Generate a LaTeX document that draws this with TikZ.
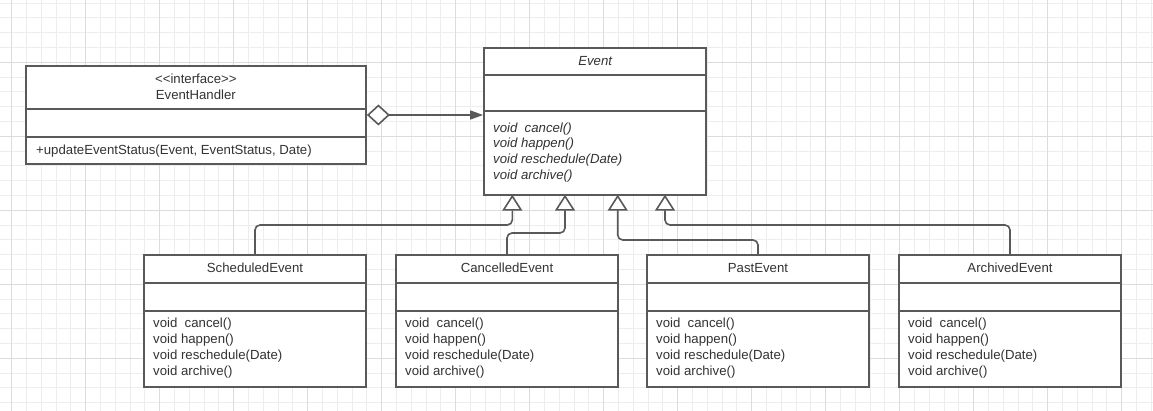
\documentclass[tikz,border=0pt]{standalone}
\usepackage{fontspec}
\newfontfamily\lsans{Liberation Sans}
\usetikzlibrary{arrows.meta}
\definecolor{edgec}{HTML}{595959}
\definecolor{txtc}{HTML}{333333}
\definecolor{gminor}{HTML}{EDEDED}
\definecolor{gmajor}{HTML}{DCDCDC}
\tikzset{
  gridminor/.style={draw=gminor, line width=1pt},
  gridmajor/.style={draw=gmajor, line width=1.2pt},
  classbox/.style={draw=edgec, line width=1.8pt, fill=white, rectangle, inner sep=0pt},
  divider/.style={draw=edgec, line width=1.8pt},
  lbl/.style={font=\lsans\fontsize{13.2}{15.8}\selectfont, text=txtc, inner sep=0pt},
  ilbl/.style={lbl, font=\lsans\itshape\fontsize{13.2}{15.8}\selectfont},
  inh/.style={draw=edgec, line width=1.6pt, rounded corners=5pt,
    -{Triangle[fill=white, length=16pt, width=20pt]}},
  agg/.style={draw=edgec, line width=1.6pt,
    {Diamond[fill=white, length=23pt, width=21pt]}-{Triangle[length=13pt, width=9pt]}},
}
\begin{document}
\begin{tikzpicture}[x=1pt,y=-1pt]
\useasboundingbox (0,0) rectangle (1153,411);
\fill[white] (0,0) rectangle (1153,411);
% grid
\begin{scope}
\clip (0,0) rectangle (1153,411);
\foreach \j in {-1,...,77} \draw[gridminor] ({11.7+14.8*\j},0) -- ({11.7+14.8*\j},411);
\foreach \j in {0,...,28} \draw[gridminor] (0,{-11.7+14.8*\j}) -- (1153,{-11.7+14.8*\j});
\foreach \j in {0,...,15} \draw[gridmajor] ({11.7+74*\j},0) -- ({11.7+74*\j},411);
\foreach \j in {1,...,5} \draw[gridmajor] (0,{-11.7+74*\j}) -- (1153,{-11.7+74*\j});
\end{scope}

% EventHandler
\node[classbox, minimum width=340.3pt, minimum height=98.6pt] (handler) at (195.85,115) {};
\draw[divider] (25.7,109) -- (366,109);
\draw[divider] (25.7,137) -- (366,137);
\node[lbl] (handler-st) at (195.85,78.3) {<\kern0pt<interface>\kern0pt>};
\node[lbl] (handler-title) at (195.85,94.3) {EventHandler};
\node[lbl, anchor=base west] (handler-m1) at (36,154.5) {+updateEventStatus(Event, EventStatus, Date)};

% Event
\node[classbox, minimum width=222.3pt, minimum height=147pt] (event) at (595.15,121.2) {};
\draw[divider] (484,75.3) -- (706.3,75.3);
\draw[divider] (484,111) -- (706.3,111);
\node[ilbl] (event-title) at (595.15,61) {Event};
\foreach \m [count=\k] in {void\ \ cancel(), void happen(), void reschedule(Date), void archive()}
  \node[ilbl, anchor=base west] (event-m\k) at (493,{132.2+15.8*(\k-1)}) {\m};

% subclasses
\foreach \n/\cx/\t in {sched/255/ScheduledEvent, canc/507/CancelledEvent, past/758/PastEvent, arch/1010/ArchivedEvent} {
  \node[classbox, minimum width=222pt, minimum height=132pt] (\n) at (\cx,321) {};
  \draw[divider] ({\cx-111},283) -- ({\cx+111},283);
  \draw[divider] ({\cx-111},311) -- ({\cx+111},311);
  \node[lbl] (\n-title) at (\cx,268) {\t};
  \foreach \m [count=\k] in {void\ \ cancel(), void happen(), void reschedule(Date), void archive()}
    \node[lbl, anchor=base west] (\n-m\k) at ({\cx-102},{327.5+16*(\k-1)}) {\m};
}

% aggregation
\draw[agg] (handler.east) -- (handler.east -| event.west);

% inheritance
\coordinate (t1) at (512.3,194.7);
\coordinate (t2) at (565,194.7);
\coordinate (t3) at (617.7,194.7);
\coordinate (t4) at (665,194.7);
\coordinate (e1) at (0,225);
\coordinate (e2) at (0,233);
\coordinate (e3) at (0,240);
\coordinate (e4) at (0,225);
\draw[inh] (sched.north) -- (sched.north |- e1) -- (t1 |- e1) -- (t1);
\draw[inh] (canc.north) -- (canc.north |- e2) -- (t2 |- e2) -- (t2);
\draw[inh] (past.north) -- (past.north |- e3) -- (t3 |- e3) -- (t3);
\draw[inh] (arch.north) -- (arch.north |- e4) -- (t4 |- e4) -- (t4);
\end{tikzpicture}
\end{document}
